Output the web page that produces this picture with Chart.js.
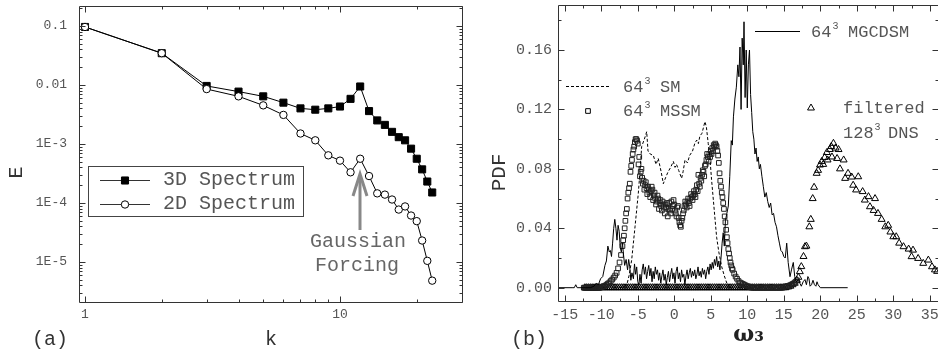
<!DOCTYPE html>
<html><head><meta charset="utf-8">
<script src="https://cdn.jsdelivr.net/npm/chart.js@4.4.1/dist/chart.umd.min.js"></script>
<style>
html,body{margin:0;padding:0;background:#fff;overflow:hidden;width:938px;height:358px;}
#a{position:absolute;left:0;top:0;width:470px;height:358px;}
#b{position:absolute;left:480px;top:0;width:470px;height:358px;}
</style></head><body>
<div id="a"><canvas id="ca"></canvas></div>
<div id="b"><canvas id="cb"></canvas></div>
<script>
// ---------- Panel (a): energy spectra ----------
const kValues = [1,2,3,4,5,6,7,8,9,10,11,12,13,14,15,16,17,18,19,20,21,22,23];
const spectrum3D = [0.096,0.0345,0.0096,0.0077,0.0064,0.0050,0.0040,0.0038,0.0040,0.0043,0.0058,0.0094,0.0036,0.0025,0.0021,0.0016,0.0013,0.00115,0.00083,0.00056,0.00037,0.00023,0.00015];
const spectrum2D = [0.096,0.0345,0.0085,0.0064,0.0045,0.0031,0.0015,0.00115,0.00064,0.00052,0.00033,0.00056,0.000285,0.000145,0.000138,0.000114,0.000077,0.000087,0.000061,0.000049,0.000023,0.0000104,0.0000048];
const kTickValues = [1,2,3,4,5,6,7,8,9,10,20,30];
const kLabelValues = [1,10];
const eLabelValues = [1e-5,1e-4,1e-3,0.01,0.1];
const eLabelTexts = ['1E-5','1E-4','1E-3','0.01','0.1'];

// ---------- Panel (b): PDF of omega_3 ----------
const mgcdsm = [[-16,0],[-14,0],[-13.7,0],[-13.5,0.002],[-13.3,0],[-12.5,0],[-11.5,0],[-11.0,0.001],[-10.7,0.003],[-10.4,0.002],[-10.1,0.006],[-9.8,0.0075],[-9.5,0.015],[-9.3,0.018],[-9.1,0.028],[-8.9,0.024],[-8.75,0.025],[-8.6,0.021],[-8.45,0.03],[-8.3,0.04],[-8.15,0.046],[-8.0,0.04],[-7.85,0.032],[-7.7,0.042],[-7.55,0.038],[-7.4,0.027],[-7.25,0.024],[-7.1,0.03],[-6.95,0.022],[-6.8,0.015],[-6.6,0.019],[-6.4,0.012],[-6.25,0.019],[-6.1,0.014],[-5.95,0.005],[-5.8,0.01],[-5.6,0.006],[-5.45,0.016],[-5.3,0.009],[-5.15,0.014],[-5.0,0.004],[-4.85,0.002],[-4.7,0.009],[-4.55,0.003],[-4.4,0.012],[-4.25,0.016],[-4.1,0.009],[-3.95,0.014],[-3.8,0.006],[-3.65,0.011],[-3.5,0.015],[-3.35,0.008],[-3.2,0.013],[-3.05,0.004],[-2.9,0.011],[-2.75,0.006],[-2.6,0.014],[-2.45,0.009],[-2.3,0.012],[-2.15,0.005],[-2.0,0.01],[-1.85,0.003],[-1.7,0.008],[-1.55,0.012],[-1.4,0.005],[-1.25,0.009],[-1.1,0.002],[-0.95,0.007],[-0.8,0.011],[-0.65,0.004],[-0.5,0.009],[-0.35,0.013],[-0.2,0.006],[-0.05,0.01],[0.1,0.003],[0.25,0.011],[0.4,0.014],[0.55,0.006],[0.7,0.01],[0.85,0.004],[1.0,0.012],[1.15,0.007],[1.3,0.009],[1.45,0.002],[1.6,0.008],[1.75,0.012],[1.9,0.006],[2.05,0.01],[2.2,0.013],[2.35,0.007],[2.5,0.011],[2.65,0.008],[2.8,0.012],[2.95,0.006],[3.1,0.009],[3.25,0.014],[3.4,0.008],[3.55,0.011],[3.7,0.007],[3.85,0.013],[4.0,0.009],[4.15,0.012],[4.3,0.006],[4.45,0.011],[4.6,0.014],[4.75,0.009],[4.9,0.016],[5.05,0.012],[5.2,0.017],[5.35,0.013],[5.5,0.019],[5.65,0.015],[5.8,0.021],[5.95,0.014],[6.1,0.018],[6.25,0.012],[6.4,0.02],[6.55,0.03],[6.7,0.037],[6.85,0.028],[7.0,0.045],[7.2,0.05],[7.4,0.055],[7.6,0.075],[7.8,0.099],[7.95,0.096],[8.1,0.115],[8.3,0.127],[8.5,0.135],[8.7,0.15],[8.85,0.142],[9.0,0.162],[9.15,0.12],[9.3,0.168],[9.45,0.15],[9.55,0.179],[9.7,0.128],[9.85,0.16],[10.0,0.121],[10.15,0.15],[10.3,0.16],[10.45,0.13],[10.6,0.118],[10.75,0.105],[10.9,0.1],[11.05,0.09],[11.2,0.094],[11.35,0.085],[11.5,0.088],[11.65,0.08],[11.8,0.083],[12.0,0.075],[12.2,0.068],[12.4,0.061],[12.6,0.064],[12.8,0.058],[13.0,0.054],[13.2,0.057],[13.4,0.049],[13.6,0.05],[13.8,0.044],[14.0,0.041],[14.2,0.035],[14.4,0.03],[14.6,0.025],[14.8,0.024],[15.0,0.021],[15.2,0.02],[15.4,0.03],[15.6,0.017],[15.85,0.0074],[16.05,0.012],[16.3,0.017],[16.5,0.0075],[16.75,0.004],[17.0,0.0055],[17.2,0.003],[17.4,0.001],[17.65,0.004],[17.9,0.0055],[18.1,0.002],[18.3,0.0075],[18.45,0.006],[18.6,0.001],[18.8,0.002],[19.0,0.005],[19.2,0.002],[19.4,0.001],[19.55,0.004],[19.7,0.002],[20.0,0],[23.75,0]];

const sm = [[-7.5,0],[-6.9,0.0005],[-6.5,0.002],[-6.2,0.008],[-5.84,0.0186],[-5.38,0.041],[-4.93,0.0635],[-4.7,0.078],[-4.47,0.095],[-4.1,0.1],[-3.78,0.105],[-3.6,0.092],[-3.3,0.09],[-2.87,0.089],[-2.5,0.083],[-2.2,0.087],[-1.8,0.078],[-1.5,0.07],[-1.2,0.074],[-0.85,0.078],[-0.5,0.081],[-0.13,0.085],[0.1,0.081],[0.3,0.083],[0.6,0.079],[1.0,0.0736],[1.2,0.078],[1.47,0.086],[1.8,0.084],[2.1,0.089],[2.5,0.092],[2.8,0.097],[3.07,0.0994],[3.3,0.097],[3.5,0.102],[3.8,0.104],[4.0,0.108],[4.2,0.1118],[4.4,0.108],[4.65,0.097],[4.9,0.086],[5.1,0.073],[5.35,0.059],[5.6,0.045],[5.8,0.034],[6.1,0.024],[6.5,0.014],[6.85,0.008],[7.2,0.003],[7.6,0],[8.0,0]];

const mssmZeroOmega = [-12.4,-12.3,-12.2,-12.1,-12,-11.9,-11.8,-11.7,-11.6,-11.5,-11.4,-11.3,-11.2,-11.1,-11,-10.9,-10.8,-10.7,-10.6,-10.5,-10.4,-10.3,-10.2,10.6,10.8,11,11.2,11.4,11.6,11.8,12,12.2,12.4,12.6,12.8,13,13.2,13.4,13.6,13.8,14,14.2,14.4,14.6,14.8];
const mssm = [[-10.1,0.0003],[-9.9,0.0006],[-9.7,0.0009],[-9.5,0.0013],[-9.3,0.002],[-9.1,0.0027],[-8.9,0.0035],[-8.7,0.0045],[-8.5,0.0055],[-8.3,0.0068],[-8.1,0.0082],[-7.9,0.01],[-7.7,0.013],[-7.5,0.017],[-7.3,0.022],[-7.1,0.028],[-6.9,0.035],[-6.7,0.045],[-6.5,0.053],[-6.3,0.064],[-6.1,0.07],[-5.9,0.082],[-5.7,0.09],[-5.5,0.095],[-5.3,0.1],[-5.1,0.099],
[-7.0,0.032],[-6.8,0.04],[-6.6,0.05],[-6.4,0.06],[-6.2,0.067],[-6.0,0.078],[-5.8,0.086],[-5.6,0.093],[-5.4,0.098],[-5.2,0.1],[-5.0,0.097],[-4.8,0.088],[-4.6,0.078],[-4.4,0.074],[-4.2,0.072],[-4.0,0.069],[-3.8,0.067],[-3.6,0.068],[-3.4,0.064],[-3.2,0.065],[-3.0,0.066],[-2.8,0.062],[-2.6,0.06],[-2.4,0.058],[-2.2,0.06],[-2.0,0.057],[-1.8,0.055],[-1.6,0.058],[-1.4,0.054],[-1.2,0.056],[-1.0,0.057],[-0.8,0.053],[-0.6,0.052],[-0.4,0.058],[-0.2,0.055],[0.0,0.056],[0.2,0.05],[0.4,0.054],[0.6,0.047],[0.8,0.042],[1.0,0.045],[1.2,0.05],[1.4,0.055],[1.6,0.056],[1.8,0.058],[2.0,0.057],[2.2,0.06],[2.4,0.061],[2.6,0.062],[2.8,0.063],[3.0,0.066],[3.2,0.065],[3.4,0.07],[3.6,0.074],[3.8,0.076],[4.0,0.078],[4.2,0.082],[4.4,0.086],[4.6,0.088],[4.8,0.09],[5.0,0.092],[5.2,0.094],[5.4,0.096],[5.6,0.097],[5.8,0.095],[6.0,0.089],[6.2,0.077],[6.4,0.068],[6.6,0.061],[6.8,0.053],[7.0,0.044],[7.2,0.034],[7.4,0.026],[7.6,0.02],[7.8,0.015],[8.0,0.012],[8.2,0.0095],[8.4,0.0075],[8.6,0.006],[8.8,0.0045],[9.0,0.0035],[9.2,0.003],[9.4,0.0025],[9.6,0.002],[9.8,0.0015],[10.0,0.001],[10.2,0.0007],[10.4,0.0005],
[-4.9,0.083],[-4.7,0.075],[-4.5,0.08],[-4.3,0.07],[-4.1,0.066],[-3.9,0.071],[-3.7,0.063],[-3.5,0.066],[-3.3,0.061],[-3.1,0.068],[-2.9,0.059],[-2.7,0.064],[-2.5,0.056],[-2.3,0.062],[-2.1,0.053],[-1.9,0.059],[-1.7,0.052],[-1.5,0.056],[-1.3,0.05],[-1.1,0.054],[-0.9,0.048],[-0.7,0.057],[-0.5,0.05],[-0.3,0.053],[-0.1,0.059],[0.1,0.052],[0.3,0.048],[0.5,0.055],[0.7,0.044],[0.9,0.041],[1.1,0.047],[1.3,0.052],[1.5,0.058],[1.7,0.054],[1.9,0.06],[2.1,0.055],[2.3,0.063],[2.5,0.059],[2.7,0.065],[2.9,0.061],[3.1,0.069],[3.3,0.076],[3.5,0.068],[3.7,0.072],[3.9,0.079],[4.1,0.075],[4.3,0.083],[4.5,0.09],[4.7,0.085],[4.9,0.088],[5.1,0.09],[5.3,0.092],[5.5,0.095],[5.7,0.096],[5.9,0.092],[6.1,0.084],[6.3,0.072],[6.5,0.064],[6.7,0.057],[6.9,0.048],[7.1,0.039],[7.3,0.03],[7.5,0.023],[7.7,0.017],[7.9,0.013],
[15.0,0.0005],[15.2,0.0008],[15.4,0.001],[15.6,0.0012],[15.8,0.0015],[16.0,0.002],[16.2,0.0025],[16.4,0.003],[16.6,0.004],[16.8,0.005]];

const dnsZeroOmega = [-12.25,-12,-11.75,-11.5,-11.25,-11,-10.75,-10.5,-10.25,-10,-9.75,-9.5,-9.25,-9,-8.75,-8.5,-8.25,-8,-7.75,-7.5,-7.25,-7,-6.75,-6.5,-6.25,-6,-5.75,-5.5,-5.25,-5,-4.75,-4.5,-4.25,-4,-3.75,-3.5,-3.25,-3,-2.75,-2.5,-2.25,-2,-1.75,-1.5,-1.25,-1,-0.75,-0.5,-0.25,0,0.25,0.5,0.75,1,1.25,1.5,1.75,2,2.25,2.5,2.75,3,3.25,3.5,3.75,4,4.25,4.5,4.75,5,5.25,5.5,5.75,6,6.25,6.5,6.75,7,7.25,7.5,7.75,8,8.25,8.5,8.75,9,9.25,9.5,9.75,10,10.25,10.5,10.75,11,11.25,11.5,11.75,12,12.25,12.5,12.75,13,13.25,13.5,13.75,14,14.25,14.5,14.75,15,15.25];
const dns = [[15.6,0.0005],[15.9,0.001],[16.2,0.002],[16.5,0.003],[16.8,0.005],[17.0,0.007],[17.2,0.0108],[17.4,0.0142],[17.7,0.021],[17.9,0.0276],[18.1,0.028],[18.5,0.041],[18.7,0.046],[18.96,0.06],[19.15,0.0676],[19.5,0.077],[19.7,0.079],[19.96,0.0826],[20.2,0.085],[20.4,0.083],[20.6,0.0877],[20.9,0.091],[21.0,0.086],[21.3,0.093],[21.5,0.095],[21.6,0.088],[21.8,0.0972],[22.1,0.094],[22.3,0.087],[22.5,0.093],[22.7,0.08],[23.2,0.086],[23.4,0.0736],[23.8,0.077],[24.3,0.0745],[24.5,0.069],[24.9,0.0658],[25.2,0.0747],[25.8,0.0647],[26.1,0.059],[26.6,0.0613],[26.8,0.0545],[27.3,0.052],[27.5,0.06],[27.9,0.05],[28.4,0.046],[28.9,0.041],[29.3,0.042],[29.6,0.0375],[30.0,0.0343],[30.4,0.0343],[30.8,0.03],[31.4,0.0276],[32.1,0.026],[32.5,0.0209],[32.7,0.0253],[33.4,0.0197],[34.1,0.0164],[34.8,0.0186],[35.3,0.0141],[35.7,0.012],[36.0,0.011]];

const omegaLabelStep = 5;   // labelled ticks
const omegaTickStep = 2.5;  // all ticks
const pdfLabelStep = 0.04;
const pdfTickStep = 0.02;

// ---------- helpers ----------
const MONO = '"Liberation Mono", "DejaVu Sans Mono", monospace';
const toXY = p => ({x: p[0], y: p[1]});
function fixScale(w, h) {
  return function (s) {
    if (w != null) s.width = w;
    if (h != null) s.height = h;
    s.paddingTop = 0; s.paddingBottom = 0; s.paddingLeft = 0; s.paddingRight = 0;
  };
}
const frameTicks = {
  id: 'frameTicks',
  afterDatasetsDraw(chart) {
    const c = chart.ctx, a = chart.chartArea;
    c.save();
    c.strokeStyle = '#333'; c.lineWidth = 1;
    const L = Math.round(a.left) + 0.5, R = Math.round(a.right) - 0.5, T = Math.round(a.top) + 0.5, B = Math.round(a.bottom) - 0.5;
    c.beginPath();
    c.rect(L, T, R - L, B - T);
    const xs = chart.scales.x, ys = chart.scales.y;
    xs.ticks.forEach(t => {
      const p = Math.round(xs.getPixelForValue(t.value)) + 0.5;
      if (p < L - 1 || p > R + 1) return;
      const len = t.major ? 6 : 3;
      c.moveTo(p, B); c.lineTo(p, B - len);
      c.moveTo(p, T); c.lineTo(p, T + len);
    });
    ys.ticks.forEach(t => {
      const p = Math.round(ys.getPixelForValue(t.value)) + 0.5;
      if (p < T - 1 || p > B + 1) return;
      const len = t.major ? 6 : 3;
      c.moveTo(L, p); c.lineTo(L + len, p);
      c.moveTo(R, p); c.lineTo(R - len, p);
    });
    c.stroke();
    c.restore();
  }
};
function drawMarker(c, style, r, x, y, fill) {
  c.fillStyle = fill; c.strokeStyle = '#000'; c.lineWidth = 1;
  Chart.helpers.drawPoint(c, {pointStyle: style, radius: r, rotation: 0, borderWidth: 1}, x, y);
}
function sup(c, base, supTxt, rest, x, y, size, restX) {
  c.font = size + 'px ' + MONO;
  c.fillText(base, x, y);
  const w = c.measureText(base).width;
  c.font = Math.round(size * 0.6) + 'px ' + MONO;
  c.fillText(supTxt, x + w + 1, y - size * 0.32);
  c.font = size + 'px ' + MONO;
  c.fillText(rest, restX, y);
}

// ---------- panel (a) annotations ----------
const panelA = {
  id: 'panelA',
  afterDraw(chart) {
    const c = chart.ctx;
    c.save();
    c.strokeStyle = '#444'; c.lineWidth = 1;
    c.strokeRect(88.5, 166.5, 215, 50);
    c.textBaseline = 'middle'; c.textAlign = 'left';
    c.font = '20px ' + MONO; c.fillStyle = '#555';
    [[180, 'rect', 5, '#000', '3D Spectrum'], [204, 'circle', 3.7, '#fff', '2D Spectrum']].forEach(e => {
      c.strokeStyle = '#333'; c.lineWidth = 1;
      c.beginPath(); c.moveTo(100, e[0] + 0.5); c.lineTo(150, e[0] + 0.5); c.stroke();
      drawMarker(c, e[1], e[2], 125, e[0] + 0.5, e[3]);
      c.fillStyle = '#555'; c.font = '20px ' + MONO;
      c.fillText(e[4], 163, e[0]);
    });
    // arrow
    c.strokeStyle = '#888'; c.lineWidth = 3; c.lineJoin = 'miter';
    c.beginPath(); c.moveTo(360, 230); c.lineTo(360, 175); c.stroke();
    c.beginPath(); c.moveTo(353, 196); c.lineTo(360, 174); c.lineTo(367, 196); c.stroke();
    c.fillStyle = '#666'; c.textAlign = 'center';
    c.fillText('Gaussian', 358, 242);
    c.fillText('Forcing', 357, 266);
    c.fillStyle = '#333';
    c.fillText('(a)', 50, 340);
    c.restore();
  }
};

// ---------- panel (b) annotations ----------
const OFF = 480;
const panelB = {
  id: 'panelB',
  afterDraw(chart) {
    const c = chart.ctx;
    c.save();
    c.textBaseline = 'middle'; c.textAlign = 'left'; c.fillStyle = '#555';
    // MGCDSM
    c.strokeStyle = '#000'; c.lineWidth = 1;
    c.beginPath(); c.moveTo(755 - OFF, 31.5); c.lineTo(800 - OFF, 31.5); c.stroke();
    sup(c, '64', '3', 'MGCDSM', 811 - OFF, 32, 17, 848 - OFF);
    // SM
    c.setLineDash([3, 2]);
    c.beginPath(); c.moveTo(566 - OFF, 86.5); c.lineTo(610 - OFF, 86.5); c.stroke();
    c.setLineDash([]);
    c.fillStyle = '#555';
    sup(c, '64', '3', 'SM', 623 - OFF, 87, 17, 660 - OFF);
    // MSSM
    drawMarker(c, 'rect', 3.3, 588 - OFF, 111, 'rgba(0,0,0,0)');
    c.fillStyle = '#555';
    sup(c, '64', '3', 'MSSM', 623 - OFF, 111, 17, 660 - OFF);
    // DNS
    drawMarker(c, 'triangle', 4, 811 - OFF, 108, 'rgba(0,0,0,0)');
    c.fillStyle = '#555';
    c.font = '17px ' + MONO;
    c.fillText('filtered', 843 - OFF, 108);
    sup(c, '128', '3', 'DNS', 843 - OFF, 133, 17, 888 - OFF);
    c.fillStyle = '#333'; c.font = '20px ' + MONO; c.textAlign = 'center';
    c.fillText('(b)', 529 - OFF, 340);
    c.restore();
  }
};

// ---------- chart (a) ----------
const eTicks = [];
[1e-6,1e-5,1e-4,1e-3,1e-2,1e-1].forEach(d => { for (let m = 1; m <= 9; m++) eTicks.push(+(m * d).toPrecision(3)); });

new Chart(document.getElementById('ca'), {
  type: 'scatter',
  data: {
    datasets: [
      {label: '2D Spectrum', data: kValues.map((k, i) => ({x: k, y: spectrum2D[i]})), showLine: true,
       borderColor: '#000', borderWidth: 1, pointStyle: 'circle', pointRadius: 3.7,
       pointBackgroundColor: '#fff', pointBorderColor: '#000', pointBorderWidth: 1},
      {label: '3D Spectrum', data: kValues.map((k, i) => ({x: k, y: spectrum3D[i]})), showLine: true,
       borderColor: '#000', borderWidth: 1, pointStyle: 'rect', pointRadius: 5,
       pointBackgroundColor: '#000', pointBorderColor: '#000', pointBorderWidth: 1}
    ]
  },
  options: {
    responsive: true, maintainAspectRatio: false, animation: false, devicePixelRatio: 1,
    layout: {padding: {left: 0, right: 7, top: 5, bottom: 0}},
    plugins: {legend: {display: false}, tooltip: {enabled: false}},
    scales: {
      x: {
        type: 'logarithmic', min: 0.9473, max: 30.37,
        grid: {display: false, drawTicks: false}, border: {display: false},
        afterBuildTicks: s => { s.ticks = kTickValues.map(v => ({value: v, major: kLabelValues.includes(v)})); },
        afterFit: fixScale(null, 55),
        ticks: {autoSkip: false, maxRotation: 0, padding: 4, color: '#555', font: {family: MONO, size: 13, lineHeight: 1.2},
          callback: v => kLabelValues.includes(v) ? String(v) : ''},
        title: {display: true, text: 'k', color: '#333', font: {family: MONO, size: 20, lineHeight: 1.2}, padding: {top: 0, bottom: 6}}
      },
      y: {
        type: 'logarithmic', min: 2.006e-6, max: 0.2177,
        grid: {display: false, drawTicks: false}, border: {display: false},
        afterBuildTicks: s => { s.ticks = eTicks.filter(v => v >= 2.006e-6 && v <= 0.2177).map(v => ({value: v, major: eLabelValues.some(l => Math.abs(l - v) / l < 1e-6)})); },
        afterFit: fixScale(79, null),
        ticks: {autoSkip: false, padding: 12, color: '#555', font: {family: MONO, size: 13, lineHeight: 1.2},
          callback: v => { const i = eLabelValues.findIndex(l => Math.abs(l - v) / l < 1e-6); return i >= 0 ? eLabelTexts[i] : ''; }},
        title: {display: true, text: 'E   ', color: '#333', font: {family: MONO, size: 20, lineHeight: 1.2}, padding: {top: 5, bottom: 0}}
      }
    }
  },
  plugins: [frameTicks, panelA]
});

// ---------- chart (b) ----------
const omegaTicks = [];
for (let v = -15; v <= 35.001; v += omegaTickStep) omegaTicks.push(Math.round(v * 10) / 10);
const pdfTicks = [];
for (let v = 0; v <= 0.1801; v += pdfTickStep) pdfTicks.push(Math.round(v * 100) / 100);
const isMult = (v, s) => Math.abs(v / s - Math.round(v / s)) < 1e-6;

new Chart(document.getElementById('cb'), {
  type: 'scatter',
  data: {
    datasets: [
      {label: '64³ MGCDSM', data: mgcdsm.map(toXY), showLine: true, borderColor: '#000', borderWidth: 1, pointRadius: 0},
      {label: '64³ SM', data: sm.map(toXY), showLine: true, borderColor: '#000', borderWidth: 1, borderDash: [3, 2], pointRadius: 0},
      {label: '64³ MSSM', data: mssmZeroOmega.map(w => ({x: w, y: 0})).concat(mssm.map(toXY)),
       pointStyle: 'rect', pointRadius: 3.3, pointBackgroundColor: 'rgba(0,0,0,0)', pointBorderColor: '#222', pointBorderWidth: 1},
      {label: 'filtered 128³ DNS', data: dnsZeroOmega.map(w => ({x: w, y: 0})).concat(dns.map(toXY)),
       pointStyle: 'triangle', pointRadius: 4, pointBackgroundColor: 'rgba(0,0,0,0)', pointBorderColor: '#000', pointBorderWidth: 1}
    ]
  },
  options: {
    responsive: true, maintainAspectRatio: false, animation: false, devicePixelRatio: 1,
    layout: {padding: {left: 0, right: 11, top: 5, bottom: 0}},
    plugins: {legend: {display: false}, tooltip: {enabled: false}},
    scales: {
      x: {
        type: 'linear', min: -15.93, max: 36.26,
        grid: {display: false, drawTicks: false}, border: {display: false},
        afterBuildTicks: s => { s.ticks = omegaTicks.map(v => ({value: v, major: isMult(v, omegaLabelStep)})); },
        afterFit: fixScale(null, 56),
        ticks: {autoSkip: false, maxRotation: 0, padding: 4, color: '#555', font: {family: MONO, size: 15, lineHeight: 1.2},
          callback: v => isMult(v, omegaLabelStep) ? String(v) : ''},
        title: {display: true, text: 'ω₃', color: '#222', font: {family: '"DejaVu Serif", serif', size: 22, weight: 'bold', lineHeight: 1.2}, padding: {top: 0, bottom: 10}}
      },
      y: {
        type: 'linear', min: -0.00963, max: 0.1903,
        grid: {display: false, drawTicks: false}, border: {display: false},
        afterBuildTicks: s => { s.ticks = pdfTicks.map(v => ({value: v, major: isMult(v, pdfLabelStep)})); },
        afterFit: fixScale(78, null),
        ticks: {autoSkip: false, padding: 6, color: '#555', font: {family: MONO, size: 15, lineHeight: 1.2},
          callback: v => isMult(v, pdfLabelStep) ? v.toFixed(2) : ''},
        title: {display: true, text: 'PDF   ', color: '#333', font: {family: MONO, size: 21, lineHeight: 1.2}, padding: {top: 7, bottom: 0}}
      }
    }
  },
  plugins: [frameTicks, panelB]
});
</script>
</body></html>
